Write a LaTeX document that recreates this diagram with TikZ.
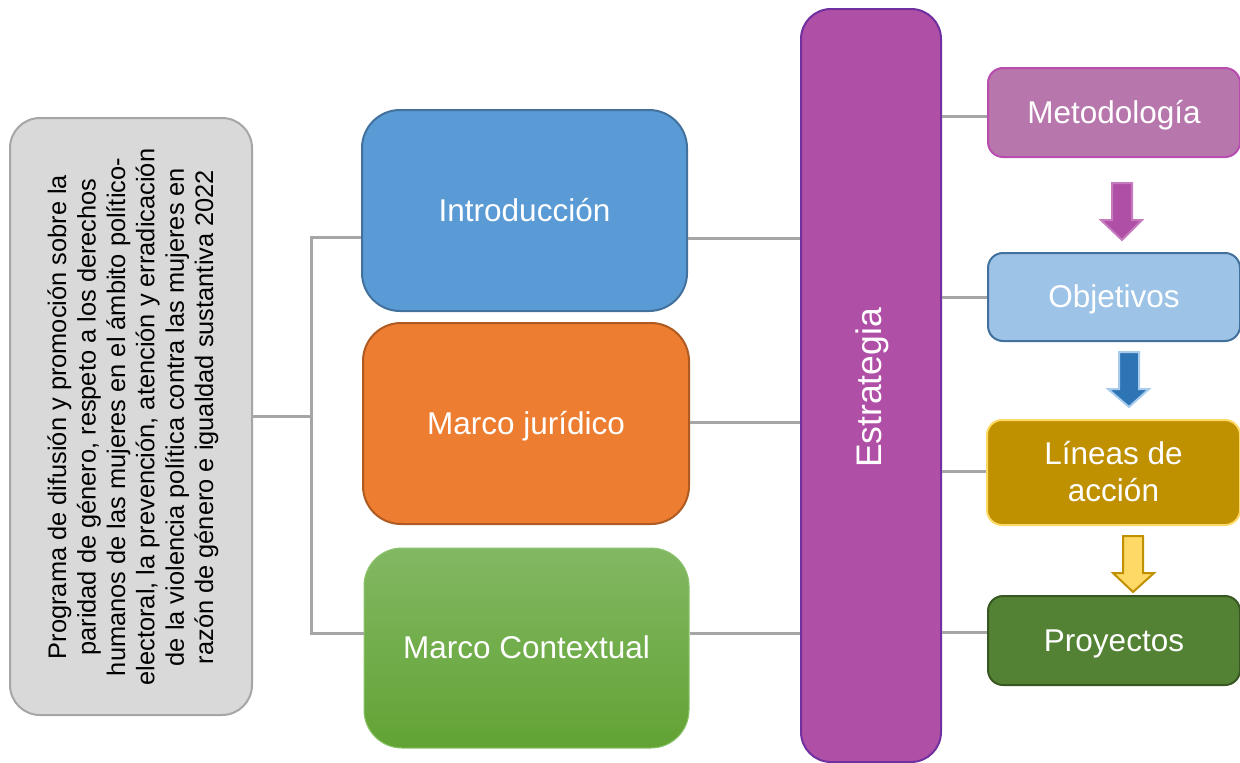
\documentclass[tikz,border=0pt]{standalone}
\usepackage{fontspec}
\setmainfont{Liberation Sans}
\newcommand\ppstrut{\rule[-0.212em]{0pt}{1.117em}}
\begin{document}
\begin{tikzpicture}[x=1pt,y=-1pt,
  box/.style={draw, line width=2pt, rounded corners=#1, align=center, text=white, inner sep=0pt,
    font=\fontsize{31.5}{37}\selectfont},
  box/.default=36pt,
  conn/.style={draw=lineg, line width=3pt},
  blockarrow/.style={line width=2pt, line join=miter}]
\definecolor{lineg}{HTML}{A6A6A6}
\definecolor{greyfill}{HTML}{D9D9D9}
\definecolor{greyline}{HTML}{A6A6A6}
\definecolor{introfill}{HTML}{5B9BD5}
\definecolor{introline}{HTML}{41719C}
\definecolor{jurfill}{HTML}{ED7D31}
\definecolor{jurline}{HTML}{AE5A21}
\definecolor{ctxtop}{HTML}{82B863}
\definecolor{ctxbot}{HTML}{62A334}
\definecolor{ctxline}{HTML}{8CC46C}
\definecolor{estrfill}{HTML}{B04FA6}
\definecolor{estrline}{HTML}{7030A0}
\definecolor{metfill}{HTML}{B777AD}
\definecolor{metline}{HTML}{B84DB0}
\definecolor{objfill}{HTML}{9DC3E6}
\definecolor{objline}{HTML}{41719C}
\definecolor{linfill}{HTML}{BF9000}
\definecolor{linline}{HTML}{FFD966}
\definecolor{proyfill}{HTML}{548235}
\definecolor{proyline}{HTML}{385723}
\definecolor{arrpurp}{HTML}{B04FA6}
\definecolor{arrpurpl}{HTML}{C67ABE}
\definecolor{arrblue}{HTML}{2E75B6}
\definecolor{arrbluel}{HTML}{A9CCEC}
\definecolor{arryel}{HTML}{FFD966}
\definecolor{arryell}{HTML}{BF9000}
\useasboundingbox (0,0) rectangle (1240,763);

% left grey box
\node[draw=greyline, fill=greyfill, line width=2pt, rounded corners=30pt,
  minimum width=242pt, minimum height=597pt, inner sep=0pt] (left) at (131,416.5) {};
\node[rotate=90, align=center, text=black, font=\fontsize{25.4}{29.4}\selectfont] (lefttext) at (133,417)
  {Programa de difusión y promoción sobre la\\
   paridad de género, respeto a los derechos\\
   humanos de las mujeres en el ámbito político-\\
   electoral, la prevención, atención y erradicación\\
   de la violencia política contra las mujeres en\\
   razón de género e igualdad sustantiva 2022};

% middle boxes
\node[box=38pt, fill=introfill, draw=introline, minimum width=325pt, minimum height=201pt] (intro) at (524.5,210.5) {\ppstrut Introducción};
\node[box=38pt, fill=jurfill, draw=jurline, minimum width=326pt, minimum height=201pt] (jur) at (526,423.5) {\ppstrut Marco jurídico};
\node[box=38pt, top color=ctxtop, bottom color=ctxbot, draw=ctxline, line width=1pt, minimum width=325pt, minimum height=200pt] (ctx) at (526.5,648) {\ppstrut Marco Contextual};

% estrategia
\node[box=30pt, fill=estrfill, draw=estrline, minimum width=140pt, minimum height=753pt] (estr) at (871,385.5) {};
\node[rotate=90, text=white, font=\fontsize{35.5}{40}\selectfont] (estrtext) at (872,388) {Estrategia};

% right boxes
\node[box=15pt, fill=metfill, draw=metline, minimum width=252pt, minimum height=89pt] (met) at (1114,112.5) {\ppstrut Metodología};
\node[box=15pt, fill=objfill, draw=objline, minimum width=252pt, minimum height=88pt] (obj) at (1114,297) {\ppstrut Objetivos};
\node[box=15pt, fill=linfill, draw=linline, minimum width=253pt, minimum height=105pt] (lin) at (1113.5,472.5) {\ppstrut Líneas de\\\ppstrut acción};
\node[box=15pt, fill=proyfill, draw=proyline, minimum width=252pt, minimum height=89pt] (proy) at (1114,640.5) {\ppstrut Proyectos};

% left tree connectors
\coordinate (j) at (311,420);
\coordinate (ia) at ([yshift=-26.5pt]intro.west);
\coordinate (ca) at ([yshift=15pt]ctx.west);
\draw[conn] (left.east) -- (left.east -| j);
\draw[conn, line join=miter] (ia) -| (j) |- (ca);

% middle to estrategia
\coordinate (ib) at ([yshift=-27.5pt]intro.east);
\coordinate (jb) at ([yshift=1.5pt]jur.east);
\coordinate (cb) at ([yshift=15pt]ctx.east);
\draw[conn] (ib) -- (ib -| estr.west);
\draw[conn] (jb) -- (jb -| estr.west);
\draw[conn] (cb) -- (cb -| estr.west);

% estrategia to right boxes
\coordinate (mb) at ([yshift=-3.5pt]met.west);
\coordinate (ob) at (obj.west);
\coordinate (lb) at ([yshift=1.5pt]lin.west);
\coordinate (pb) at ([yshift=8.5pt]proy.west);
\draw[conn] (mb -| estr.east) -- (mb);
\draw[conn] (ob -| estr.east) -- (ob);
\draw[conn] (lb -| estr.east) -- (lb);
\draw[conn] (pb -| estr.east) -- (pb);

% block arrows
\draw[blockarrow, fill=arrpurp, draw=arrpurpl]
  (1112,183) -- (1132,183) -- (1132,220) -- (1142,220) -- (1122,240) -- (1101,220) -- (1112,220) -- cycle;
\draw[blockarrow, fill=arrblue, draw=arrbluel]
  (1119,352) -- (1139,352) -- (1139,389) -- (1149,389) -- (1129,407) -- (1108,389) -- (1119,389) -- cycle;
\draw[blockarrow, fill=arryel, draw=arryell]
  (1123,536) -- (1143,536) -- (1143,573) -- (1154,573) -- (1133,592) -- (1113,573) -- (1123,573) -- cycle;
\end{tikzpicture}
\end{document}
